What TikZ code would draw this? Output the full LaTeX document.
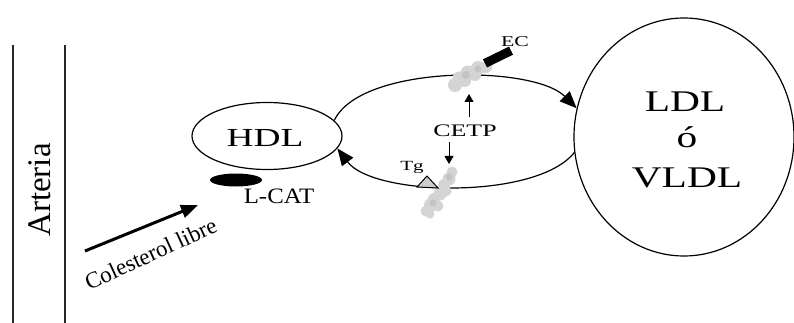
\documentclass[tikz,border=0pt]{standalone}
\usepackage{fontspec}
\setmainfont{Liberation Serif}
\usetikzlibrary{arrows.meta,shapes.geometric}
% horizontally widened lettering
\newcommand\hstretch[2]{\scalebox{#1}[1]{#2}}
\newcommand\fsz[1]{\fontsize{#1}{#1}\selectfont}
\begin{document}
\begin{tikzpicture}[x=1pt,y=1pt,
  txt/.style={inner sep=0pt, anchor=base, text=black},
  outline/.style={draw=black, line width=1.2pt, fill=white, ellipse, inner sep=0pt},
  cyc/.style={line width=1.2pt, -{Triangle[length=17pt,width=14pt]}},
  smallarrow/.style={line width=0.9pt, -{Triangle[length=8pt,width=9pt]}},
  cloudc/.style={fill=gray!34, draw=none},
  clouddark/.style={fill=gray!46, draw=none},
  wall/.style={draw=black!85, line width=1.4pt},
]
\useasboundingbox (0,0) rectangle (794,-323);

% vessel wall
\coordinate (w1t) at (13,-45);  \coordinate (w1b) at (13,-323);
\coordinate (w2t) at (65,-45);  \coordinate (w2b) at (65,-323);
\draw[wall] (w1t) -- (w1b);
\draw[wall] (w2t) -- (w2b);
\node[txt, rotate=90, font=\fsz{33}] (art) at (50,-190) {Arteria};

% free cholesterol leaving the wall
\coordinate (cs) at (85,-251);
\coordinate (ce) at (198,-205);
\draw[line width=3pt, -{Triangle[length=17pt,width=13pt]}] (cs) -- (ce);
\node[txt, rotate=24.7, font=\fsz{23}] (col) at (154,-261) {Colesterol libre};

% lipoproteins
\node[outline, minimum width=150pt, minimum height=67pt] (hdl) at (267,-136) {};
\node[txt, font=\fsz{26}] (hdltxt) at (265,-146.5) {\hstretch{1.44}{HDL}};

\node[outline, minimum width=220pt, minimum height=238pt] (ldl) at (684,-137) {};
\node[txt, font=\fsz{30}] (ldltxt) at (685,-112) {\hstretch{1.38}{LDL}};
\node[txt, font=\fsz{30}] (otxt) at (687,-148) {\hstretch{1.38}{ó}};
\node[txt, font=\fsz{30}] (vldltxt) at (687,-187) {\hstretch{1.38}{VLDL}};

% L-CAT enzyme
\node[ellipse, fill=black, minimum width=52pt, minimum height=13pt, inner sep=0pt] (lcat) at (236,-180) {};
\node[txt, font=\fsz{22}] (lcattxt) at (279,-203) {\hstretch{1.13}{L-CAT}};

% exchange cycle
\draw[cyc] (hdl.13) to[out=65, in=135, looseness=0.65] (ldl.165);
\draw[cyc] (ldl.188) to[out=232, in=-53, looseness=0.65] (hdl.-10);

% CETP molecules (soft grey clusters)
\fill[cloudc] (455,-85) circle (7) (459,-78) circle (6.5) (465,-81) circle (6)
  (468,-73) circle (7.5) (475,-75) circle (6) (478,-68) circle (7)
  (486,-67) circle (6) (489,-62) circle (4.5);
\fill[clouddark] (466,-75) circle (4) (478,-69) circle (3.5);
\fill[cloudc] (452,-172) circle (5.5) (449,-179) circle (6.5) (444,-185) circle (6)
  (446,-191) circle (5.5) (440,-194) circle (6.5) (434,-199) circle (6)
  (431,-205) circle (7) (438,-206) circle (5.5) (426,-211) circle (5.5) (430,-214) circle (4.5);
\fill[clouddark] (449,-177) circle (3.5) (433,-203) circle (3.5);

% cholesteryl ester
\node[fill=black, minimum width=29pt, minimum height=9pt, inner sep=0pt, rotate=26] (ecbar) at (498,-57) {};
\node[txt, font=\fsz{15}] (ectxt) at (515,-47) {\hstretch{1.45}{EC}};

% triglyceride
\coordinate (tg1) at (417,-187);
\coordinate (tg2) at (438,-188);
\coordinate (tg3) at (427,-176);
\draw[fill=gray!40, line width=1pt] (tg1) -- (tg2) -- (tg3) -- cycle;
\node[txt, font=\fsz{14}] (tgtxt) at (412,-171) {\hstretch{1.5}{Tg}};

% CETP label and its arrows
\node[txt, font=\fsz{17.6}] (cetp) at (465,-136.7) {\hstretch{1.47}{CETP}};
\coordinate (us) at (469,-117);  \coordinate (ue) at (469,-94);
\coordinate (ds) at (449,-142);  \coordinate (de) at (449,-164);
\draw[smallarrow] (us) -- (ue);
\draw[smallarrow] (ds) -- (de);
\end{tikzpicture}
\end{document}
